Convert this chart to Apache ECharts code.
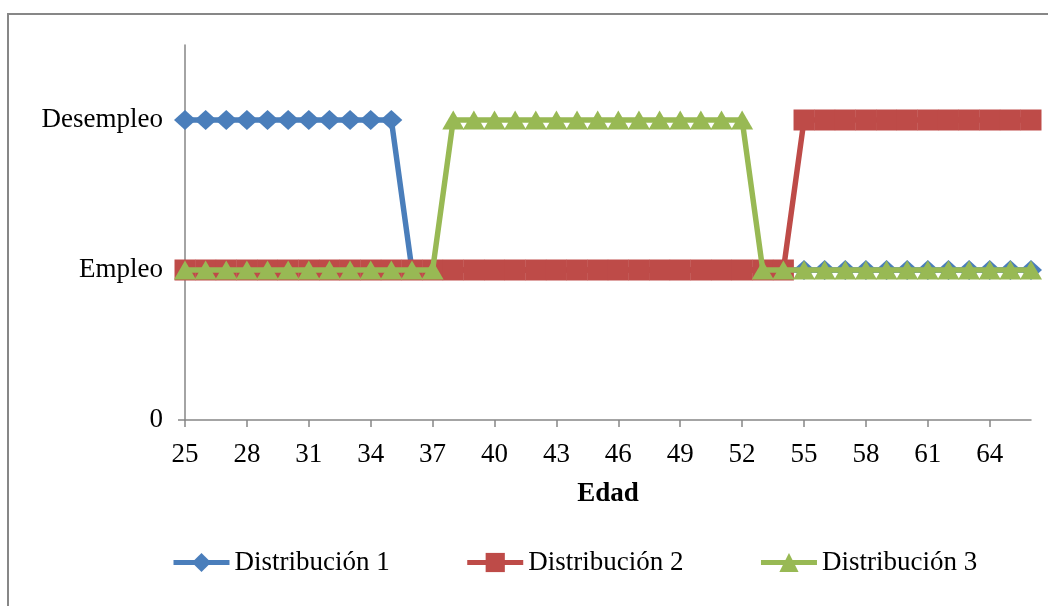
<!DOCTYPE html>
<html><head><meta charset="utf-8">
<script src="https://cdn.jsdelivr.net/npm/echarts@6/dist/echarts.min.js"></script>
<style>html,body{margin:0;padding:0;background:#fff}#c{width:1048px;height:606px}</style>
</head><body><div id="c"></div>
<script>
const ages = [];
for (let a = 25; a <= 66; a++) ages.push(String(a));
const yLabels = {0: '0', 1: 'Empleo', 2: 'Desempleo'};
const yTicks = [0, 1, 2];
const seriesNames = ['Distribución 1', 'Distribución 2', 'Distribución 3'];
// 1 = Empleo, 2 = Desempleo
const dist1 = [2,2,2,2,2,2,2,2,2,2,2, 1,1,1,1,1,1,1,1,1,1,1,1,1,1,1,1,1,1,1, 1,1,1,1,1,1,1,1,1,1,1,1];
const dist2 = [1,1,1,1,1,1,1,1,1,1,1,1,1,1,1,1,1,1,1,1,1,1,1,1,1,1,1,1,1,1, 2,2,2,2,2,2,2,2,2,2,2,2];
const dist3 = [1,1,1,1,1,1,1,1,1,1,1,1,1, 2,2,2,2,2,2,2,2,2,2,2,2,2,2,2, 1,1,1,1,1,1,1,1,1,1,1,1,1,1];

const colors = ['#4A7EBB', '#BE4B48', '#98B954'];
const symbols = ['diamond', 'rect', 'triangle'];
const sizes = [[22,20],[21,21],[22,19]];
const font = '"Liberation Serif", "Times New Roman", serif';

const chart = echarts.init(document.getElementById('c'), null, {renderer: 'canvas'});
chart.setOption({
  animation: false,
  color: colors,
  textStyle: {fontFamily: font},
  grid: {left: 185, right: 17, top: 45, bottom: 186, containLabel: false},
  graphic: [{type: 'rect', shape: {x: 8, y: 14, width: 1100, height: 700}, style: {fill: 'none', stroke: '#878787', lineWidth: 2}, silent: true}],
  xAxis: {
    type: 'category', data: ages, boundaryGap: false,
    name: 'Edad', nameLocation: 'middle', nameGap: 61,
    nameTextStyle: {fontFamily: font, fontSize: 27, fontWeight: 'bold', color: '#000'},
    axisLine: {lineStyle: {color: '#868686', width: 1.5}},
    axisTick: {show: true, interval: 2, length: 7, inside: false, lineStyle: {color: '#868686', width: 1.5}},
    axisLabel: {interval: 2, color: '#000', fontSize: 27, fontFamily: font, margin: 21},
    splitLine: {show: false}
  },
  yAxis: {
    type: 'value', min: 0, max: 2.5, interval: 1,
    axisLine: {show: true, lineStyle: {color: '#868686', width: 1.5}},
    axisTick: {show: true, length: 7, customValues: yTicks, lineStyle: {color: '#868686', width: 1.5}},
    axisLabel: {color: '#000', fontSize: 27, fontFamily: font, margin: 22, customValues: yTicks,
      formatter: v => (yLabels[v] !== undefined ? yLabels[v] : '')},
    splitLine: {show: false}
  },
  legend: {
    left: 166, top: 544, itemWidth: 56, itemHeight: 24, itemGap: 75,
    textStyle: {fontFamily: font, fontSize: 27, color: '#000'},
    lineStyle: {width: 5},
    data: seriesNames
  },
  series: [dist1, dist2, dist3].map((d, i) => ({
    name: seriesNames[i], type: 'line', data: d,
    symbol: symbols[i], symbolSize: sizes[i], showAllSymbol: true,
    lineStyle: {width: 5.5, color: colors[i]},
    itemStyle: {color: colors[i], borderWidth: 0},
    z: 2 + i
  }))
});
</script></body></html>
